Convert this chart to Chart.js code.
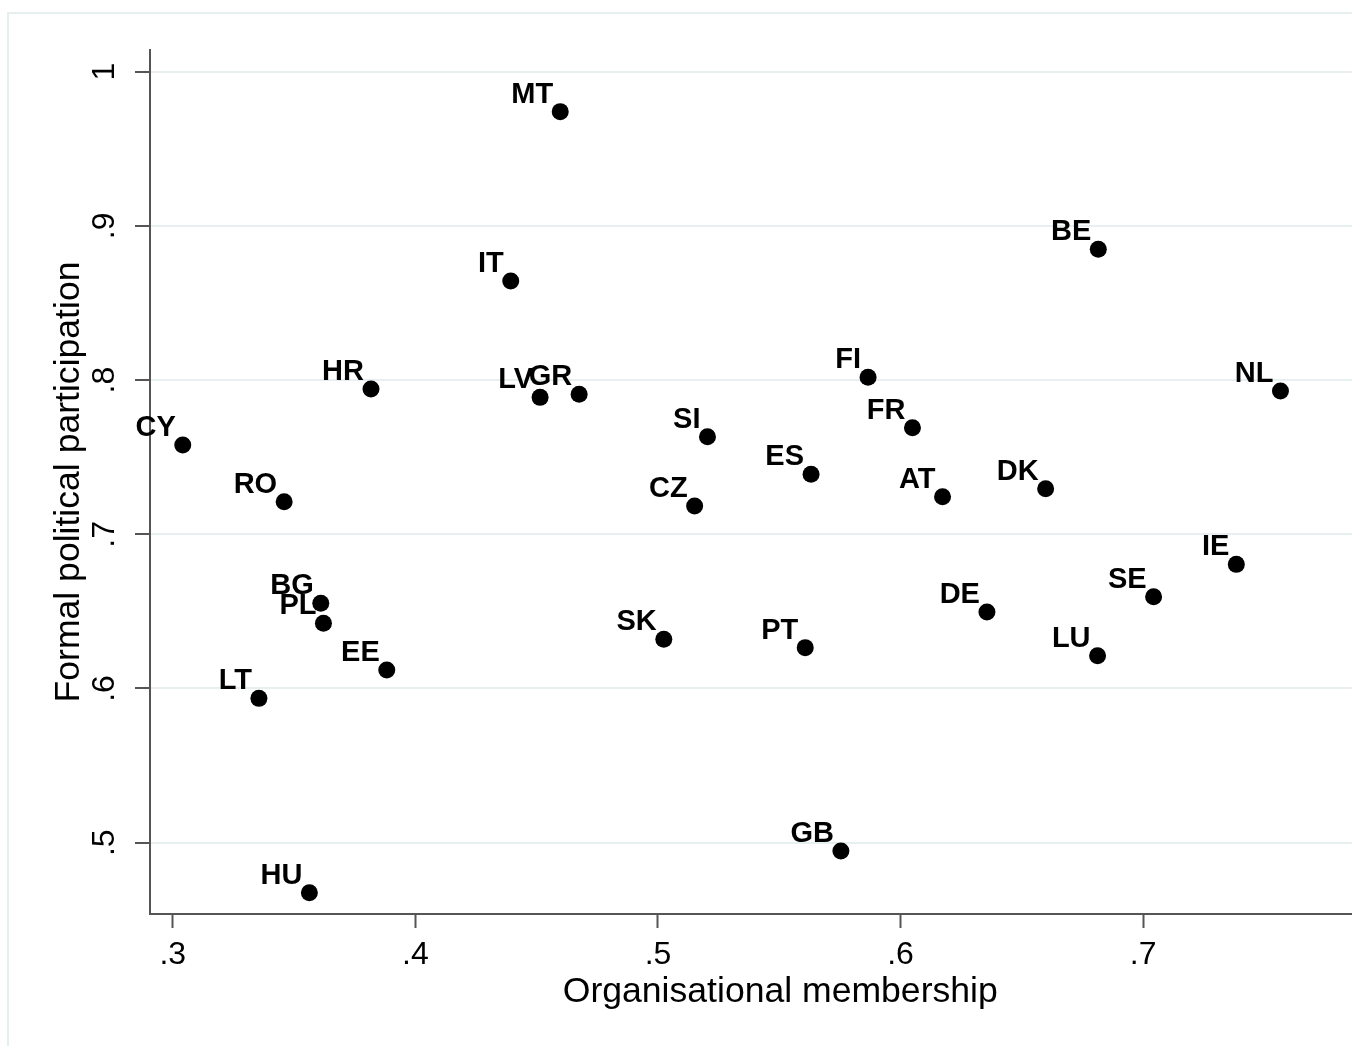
<!DOCTYPE html>
<html>
<head>
<meta charset="utf-8">
<title>Formal political participation vs organisational membership</title>
<script src="https://cdn.jsdelivr.net/npm/chart.js@4/dist/chart.umd.min.js"></script>
<style>
    html, body { margin: 0; padding: 0; background: #fff; overflow: hidden; }
    #wrap { width: 1352px; height: 1046px; overflow: hidden; }
</style>
</head>
<body>
<div id="wrap">
    <canvas id="scatterChart" width="1419" height="1046"></canvas>
</div>
<script>
// country codes and values
const countries = ['MT', 'BE', 'IT', 'HR', 'LV', 'GR', 'FI', 'NL', 'CY', 'SI', 'FR', 'ES', 'DK', 'AT',
    'RO', 'CZ', 'IE', 'BG', 'PL', 'SE', 'DE', 'SK', 'PT', 'LU', 'EE', 'LT', 'GB', 'HU'];
const membership = [0.4597, 0.6815, 0.4393, 0.3817, 0.4514, 0.4675, 0.5866, 0.7566, 0.3041, 0.5204, 0.6049, 0.5631, 0.6598, 0.6173,
    0.3459, 0.5151, 0.7384, 0.3610, 0.3621, 0.7043, 0.6356, 0.5024, 0.5607, 0.6812, 0.3882, 0.3355, 0.5754, 0.3563];
const participation = [0.9741, 0.8848, 0.8643, 0.7942, 0.7888, 0.7908, 0.8018, 0.7929, 0.7579, 0.7633, 0.7691, 0.7389, 0.7296, 0.7244,
    0.7211, 0.7184, 0.6805, 0.6553, 0.6423, 0.6595, 0.6496, 0.6319, 0.6265, 0.6213, 0.6120, 0.5936, 0.4946, 0.4676];

const xTicks = [0.3, 0.4, 0.5, 0.6, 0.7];
const yTicks = [0.5, 0.6, 0.7, 0.8, 0.9, 1];

const FONT = '"Liberation Sans", Arial, Helvetica, sans-serif';
const AXIS_COLOR = '#555555';
const GRID_COLOR = '#e8eff1';

// stata style: ".3" instead of "0.3"
function stataLabel(v) {
    if (Math.abs(v - Math.round(v)) < 1e-9) return String(Math.round(v));
    return v.toFixed(1).replace(/^0/, '');
}

// light border round the graph region
const regionFrame = {
    id: 'regionFrame',
    beforeDraw(chart) {
        const ctx = chart.ctx;
        ctx.save();
        ctx.strokeStyle = '#e6eef0';
        ctx.lineWidth = 2;
        ctx.strokeRect(8, 13, chart.width + 20, chart.height + 20);
        ctx.restore();
    }
};

// country labels at 11 o'clock of each marker
const markerLabels = {
    id: 'markerLabels',
    afterDatasetsDraw(chart) {
        const ctx = chart.ctx;
        const meta = chart.getDatasetMeta(0);
        ctx.save();
        ctx.fillStyle = '#000';
        ctx.font = 'bold 29px ' + FONT;
        ctx.textAlign = 'right';
        ctx.textBaseline = 'alphabetic';
        meta.data.forEach(function (pt, i) {
            ctx.fillText(countries[i], pt.x - 7, pt.y - 9);
        });
        ctx.restore();
    }
};

const points = countries.map(function (c, i) {
    return { x: membership[i], y: participation[i] };
});

const ctx = document.getElementById('scatterChart').getContext('2d');

new Chart(ctx, {
    type: 'scatter',
    data: {
        datasets: [{
            label: 'Countries',
            data: points,
            backgroundColor: '#000',
            borderWidth: 0,
            pointRadius: 8.5,
            pointHoverRadius: 8.5
        }]
    },
    options: {
        responsive: false,
        animation: false,
        devicePixelRatio: 1,
        layout: { padding: { top: 50, left: 0, right: 0, bottom: 0 } },
        plugins: {
            legend: { display: false },
            tooltip: { enabled: false }
        },
        scales: {
            x: {
                type: 'linear',
                min: 0.2906,
                max: 0.8102,
                afterBuildTicks: function (scale) {
                    scale.ticks = xTicks.map(function (v) { return { value: v }; });
                },
                afterFit: function (scale) { scale.height = 132; },
                border: { display: true, color: AXIS_COLOR, width: 2 },
                grid: {
                    display: true,
                    drawOnChartArea: false,
                    drawTicks: true,
                    tickLength: 14,
                    tickColor: AXIS_COLOR,
                    tickWidth: 2
                },
                ticks: {
                    autoSkip: false,
                    maxRotation: 0,
                    padding: 8,
                    color: '#000',
                    font: { family: FONT, size: 32 },
                    callback: function (v) { return stataLabel(v); }
                },
                title: {
                    display: true,
                    text: 'Organisational membership',
                    color: '#000',
                    font: { family: FONT, size: 35.6 },
                    padding: { top: 0, bottom: 32 }
                }
            },
            y: {
                type: 'linear',
                min: 0.45376,
                max: 1.01407,
                afterBuildTicks: function (scale) {
                    scale.ticks = yTicks.map(function (v) { return { value: v }; });
                },
                afterFit: function (scale) { scale.width = 150; },
                border: { display: true, color: AXIS_COLOR, width: 2 },
                grid: {
                    display: true,
                    drawOnChartArea: true,
                    color: GRID_COLOR,
                    lineWidth: 2,
                    drawTicks: true,
                    tickLength: 15,
                    tickColor: AXIS_COLOR,
                    tickWidth: 2
                },
                ticks: {
                    autoSkip: false,
                    minRotation: 90,
                    maxRotation: 90,
                    crossAlign: 'center',
                    padding: 16,
                    color: '#000',
                    font: { family: FONT, size: 32 },
                    callback: function (v) { return stataLabel(v); }
                },
                title: {
                    display: true,
                    text: 'Formal political participation',
                    color: '#000',
                    font: { family: FONT, size: 35.6 },
                    padding: { top: 48, bottom: 0 }
                }
            }
        }
    },
    plugins: [regionFrame, markerLabels]
});
</script>
</body>
</html>
